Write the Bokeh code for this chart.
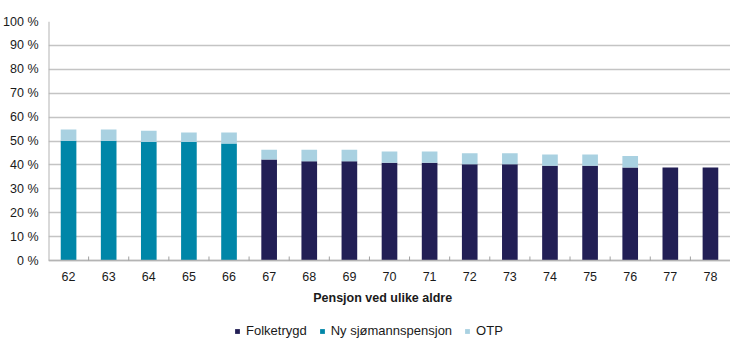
from bokeh.plotting import figure
from bokeh.models import ColumnDataSource, FixedTicker, Range1d, Legend, LegendItem
from bokeh.core.properties import value
from bokeh.embed import file_html
from bokeh.resources import INLINE

ages = [62, 63, 64, 65, 66, 67, 68, 69, 70, 71, 72, 73, 74, 75, 76, 77, 78]
folketrygd = [0, 0, 0, 0, 0, 42.3, 41.5, 41.5, 40.9, 40.9, 40.3, 40.3, 39.6, 39.6, 38.9, 38.9, 38.9]
sjomann = [50.1, 50.1, 49.6, 49.6, 49.0, 0, 0, 0, 0, 0, 0, 0, 0, 0, 0, 0, 0]
otp = [4.7, 4.7, 4.7, 4.0, 4.6, 4.0, 4.8, 4.8, 4.7, 4.7, 4.6, 4.6, 4.8, 4.8, 4.8, 0, 0]
y_ticks = [0, 10, 20, 30, 40, 50, 60, 70, 80, 90, 100]
x_title = "Pensjon ved ulike aldre"
series_names = ["Folketrygd", "Ny sjømannspensjon", "OTP"]
colors = ["#221f55", "#0086a8", "#a9d1e1"]

FONT = "Liberation Sans"
TXT = "#1a1a1a"
AXIS = "#b4b4b4"

# layout: frame spans the whole height; value axis 0..100 covers 239 px,
# space below zero holds the category labels, title and legend
PX_PER_UNIT = 2.39
Y_MIN = 100 - 331 / PX_PER_UNIT

source = ColumnDataSource(dict(age=ages, folketrygd=folketrygd, sjomann=sjomann, otp=otp,
                               label=[str(a) for a in ages]))

p = figure(width=730, height=352, output_backend="svg", toolbar_location=None,
           x_range=Range1d(ages[0] - 0.5, ages[-1] + 0.5), y_range=Range1d(Y_MIN, 100),
           x_axis_location=None,
           min_border_left=46, min_border_right=0, min_border_top=21, min_border_bottom=0)
p.outline_line_color = None
p.background_fill_color = "white"
p.border_fill_color = "white"

p.xgrid.grid_line_color = None
p.ygrid.ticker = FixedTicker(ticks=y_ticks)
p.ygrid.grid_line_color = "#c4c4c4"
p.ygrid.grid_line_width = 1.5

renderers = p.vbar_stack(["folketrygd", "sjomann", "otp"], x="age", width=0.39, source=source,
                         color=colors, line_color=None)

# value axis
p.yaxis.ticker = FixedTicker(ticks=y_ticks)
p.yaxis.major_label_overrides = {t: f"{t} %" for t in y_ticks}
p.yaxis.major_tick_line_color = None
p.yaxis.major_tick_out = 0
p.yaxis.major_tick_in = 0
p.yaxis.minor_tick_line_color = None
p.yaxis.minor_tick_out = 0
p.yaxis.major_label_standoff = 10
p.yaxis.axis_line_color = None
p.yaxis.major_label_text_font = FONT
p.yaxis.major_label_text_font_size = "12.5px"
p.yaxis.major_label_text_color = TXT

x0 = ages[0] - 0.5
p.segment(x0=[x0], y0=[y_ticks[0]], x1=[x0], y1=[y_ticks[-1]], line_color=AXIS, line_width=2)
p.segment(x0=[x0], y0=[0], x1=[ages[-1] + 0.5], y1=[0], line_color=AXIS, line_width=1.5)

# category axis: small inward ticks between categories
boundaries = [a + 0.5 for a in ages]
p.segment(x0=boundaries, y0=[0] * len(boundaries), x1=boundaries,
          y1=[4 / PX_PER_UNIT] * len(boundaries), line_color="#a0a0a0", line_width=1)

p.text(x="age", y=-16 / PX_PER_UNIT, text="label", source=source,
       text_font=value(FONT), text_font_size="12.5px", text_color=TXT,
       text_align="center", text_baseline="middle")

p.text(x=[69.83], y=[-37 / PX_PER_UNIT], text=[x_title],
       text_font=value(FONT), text_font_size="12.5px", text_font_style="bold", text_color=TXT,
       text_align="center", text_baseline="middle")

legend = Legend(items=[LegendItem(label=n, renderers=[r]) for n, r in zip(series_names, renderers)],
                orientation="horizontal", location=(186, 14),
                label_text_font=FONT, label_text_font_size="13px", label_text_color=TXT,
                glyph_width=6, glyph_height=6, label_standoff=6, spacing=12,
                border_line_color=None, background_fill_alpha=0, padding=0, margin=0)
p.add_layout(legend, "center")

open("out.html", "w").write(file_html(p, INLINE))
